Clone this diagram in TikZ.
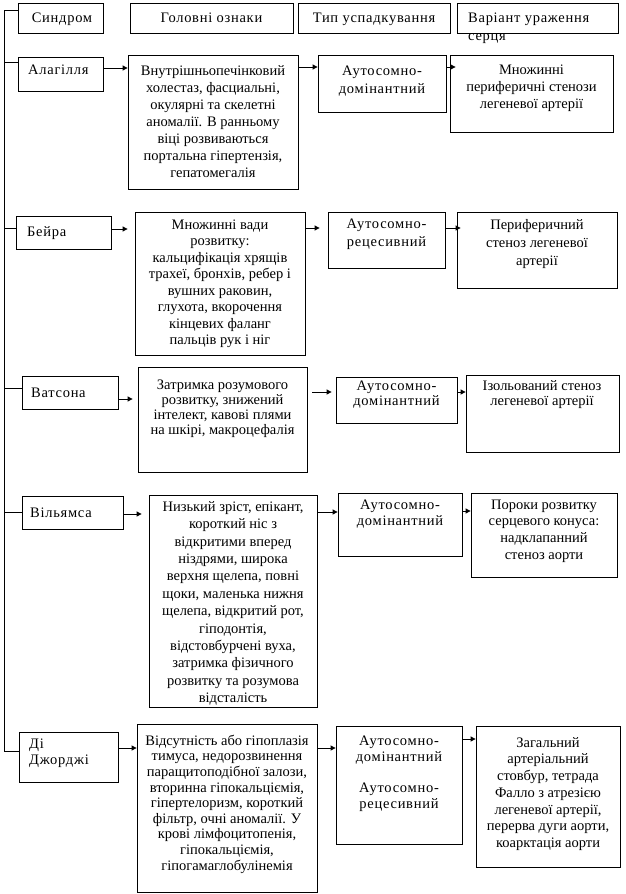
\documentclass[tikz,border=0pt]{standalone}
\usepackage{fontspec}
\setmainfont{Liberation Serif}
\newfontfamily\tnr{Liberation Serif}
\newfontfamily\tnrw{Liberation Serif}[LetterSpace=5]
\usetikzlibrary{arrows.meta,fit}
\newcommand\fs[1]{\fontsize{14.5}{#1}\selectfont}
\newcommand\fl{\rule{0pt}{12pt}}
\tikzset{
  box/.style={draw, line width=0.8pt, inner sep=0pt},
  ct/.style={anchor=north, inner sep=0pt, align=center},
  lt/.style={anchor=north west, inner sep=0pt, align=left},
  arr/.style={line width=0.8pt, -{Triangle[length=5pt,width=5pt]}},
  ln/.style={line width=0.8pt}
}
\newcommand\bx[5]{\node[box, fit={(#2,#3) (#4,#5)}] (#1) {};}
\begin{document}
\begin{tikzpicture}[x=1pt,y=-1pt,font=\tnr\fs{17}]
\useasboundingbox (0,0) rectangle (626,894);
% header
\bx{synd}{18}{3}{103}{33}
\bx{glav}{130}{3}{293}{33}
\bx{typ}{298}{3}{450}{33}
\bx{var}{457}{3}{618}{33}
\node[ct, font=\tnrw\fs{17}] (syndt) at (62,10) {\fl Синдром};
\node[ct, font=\tnrw\fs{17}] (glavt) at (211.5,10) {\fl Головні ознаки};
\node[ct, font=\tnrw\fs{17}] (typt) at (374,10) {\fl Тип успадкування};
\node[lt, font=\tnrw\fs{18}] (vart) at (468,10) {\fl Варіант ураження\\серця};
% row 1
\bx{alag}{18}{57}{103}{91}
\bx{alagT}{128}{55}{298}{189}
\bx{alagA}{318}{55}{446}{112}
\bx{alagH}{450}{55}{613}{132}
\node[lt, font=\tnrw\fs{17}] (alagt) at (28,62) {\fl Алагілля};
\node[ct, font=\tnr\fs{17}] (alagTt) at (213,63) {\fl Внутрішньопечінковий\\холестаз, фасциальні,\\окулярні та скелетні\\аномалії. В ранньому\\віці розвиваються\\портальна гіпертензія,\\гепатомегалія};
\node[ct, font=\tnrw\fs{18}] (alagAt) at (382,63) {\fl Аутосомно-\\домінантний};
\node[ct, font=\tnr\fs{17}] (alagHt) at (531.5,62) {\fl Множинні\\периферичні стенози\\легеневої артерії};
% row 2
\bx{beir}{16}{216}{111}{249}
\bx{beirT}{135}{212}{305}{355}
\bx{beirA}{328}{212}{445}{268}
\bx{beirH}{457}{212}{617}{288}
\node[lt, font=\tnrw\fs{17}] (beirt) at (27,224) {\fl Бейра};
\node[ct, font=\tnr\fs{16.5}] (beirTt) at (220,217) {\fl Множинні вади\\розвитку:\\кальцифікація хрящів\\трахеї, бронхів, ребер і\\вушних раковин,\\глухота, вкорочення\\кінцевих фаланг\\пальців рук і ніг};
\node[ct, font=\tnrw\fs{18}] (beirAt) at (386.5,216) {\fl Аутосомно-\\рецесивний};
\node[ct, font=\tnr\fs{18}] (beirHt) at (537,217) {\fl Периферичний\\стеноз легеневої\\артерії};
% row 3
\bx{wats}{22}{376}{118}{409}
\bx{watsT}{138}{367}{307}{472}
\bx{watsA}{336}{377}{457}{423}
\bx{watsH}{466}{375}{619}{452}
\node[lt, font=\tnrw\fs{17}] (watst) at (31,385) {\fl Ватсона};
\node[ct, font=\tnr\fs{15}] (watsTt) at (222.5,377) {\fl Затримка розумового\\розвитку, знижений\\інтелект, кавові плями\\на шкірі, макроцефалія};
\node[ct, font=\tnrw\fs{15}] (watsAt) at (396.5,378) {\fl Аутосомно-\\домінантний};
\node[ct, font=\tnr\fs{15}] (watsHt) at (542,378) {\fl Ізольований стеноз\\легеневої артерії};
% row 4
\bx{wil}{22}{496}{123}{529}
\bx{wilT}{149}{495}{317}{707}
\bx{wilA}{338}{493}{462}{556}
\bx{wilH}{471}{493}{617}{577}
\node[lt, font=\tnrw\fs{17}] (wilt) at (30,505) {\fl Вільямса};
\node[ct, font=\tnr\fs{17.4}] (wilTt) at (233,499) {\fl Низький зріст, епікант,\\короткий ніс з\\відкритими вперед\\ніздрями, широка\\верхня щелепа, повні\\щоки, маленька нижня\\щелепа, відкритий рот,\\гіподонтія,\\відстовбурчені вуха,\\затримка фізичного\\розвитку та розумова\\відсталість};
\node[ct, font=\tnrw\fs{16}] (wilAt) at (400,497) {\fl Аутосомно-\\домінантний};
\node[ct, font=\tnr\fs{16.7}] (wilHt) at (544,497) {\fl Пороки розвитку\\серцевого конуса:\\надклапанний\\стеноз аорти};
% row 5
\bx{dig}{19}{732}{118}{782}
\bx{digT}{137}{724}{317}{892}
\bx{digA}{336}{726}{462}{844}
\bx{digH}{476}{726}{620}{867}
\node[lt, font=\tnrw\fs{16}] (digt) at (29,736) {\fl Ді\\Джорджі};
\node[ct, font=\tnr\fs{15.6}] (digTt) at (227,733) {\fl Відсутність або гіпоплазія\\тимуса, недорозвинення\\паращитоподібної залози,\\вторинна гіпокальціємія,\\гіпертелоризм, короткий\\фільтр, очні аномалії. У\\крові лімфоцитопенія,\\гіпокальціємія,\\гіпогамаглобулінемія};
\node[ct, font=\tnrw\fs{15.8}] (digAt) at (399,733) {\fl Аутосомно-\\домінантний\\[15.8pt]Аутосомно-\\рецесивний};
\node[ct, font=\tnr\fs{16.7}] (digHt) at (548,735) {\fl Загальний\\артеріальний\\стовбур, тетрада\\Фалло з атрезією\\легеневої артерії,\\перерва дуги аорти,\\коарктація аорти};
% trunk
\coordinate (trT) at (4,10);
\coordinate (trB) at (4,751);
\draw[ln] (synd.west |- trT) -- (trT) -- (trB) -- (dig.west |- trB);
\draw[ln] (trT |- 0,62) -- (alag.west |- 0,62);
\draw[ln] (trT |- 0,228) -- (beir.west |- 0,228);
\draw[ln] (trT |- 0,388) -- (wats.west |- 0,388);
\draw[ln] (trT |- 0,512) -- (wil.west |- 0,512);
% arrows
\draw[arr] (alag.east |- 0,68) -- (alagT.west |- 0,68);
\draw[arr] (alagT.east |- 0,67) -- (alagA.west |- 0,67);
\draw[arr, shorten >=-6pt] (alagA.east |- 0,67) -- (alagH.west |- 0,67);
\draw[arr, shorten >=7pt] (beir.east |- 0,229) -- (beirT.west |- 0,229);
\draw[arr, shorten >=8pt] (beirT.east |- 0,228) -- (beirA.west |- 0,228);
\draw[arr, shorten >=-4pt] (beirA.east |- 0,228) -- (beirH.west |- 0,228);
\draw[arr, shorten >=5pt] (wats.east |- 0,399) -- (watsT.west |- 0,399);
\draw[arr, shorten <=5pt, shorten >=4pt] (watsT.east |- 0,392) -- (watsA.west |- 0,392);
\draw[arr] (watsA.east |- 0,392) -- (watsH.west |- 0,392);
\draw[arr, shorten >=7pt] (wil.east |- 0,514) -- (wilT.west |- 0,514);
\draw[arr] (wilT.east |- 0,512) -- (wilA.west |- 0,512);
\draw[arr] (wilA.east |- 0,511) -- (wilH.west |- 0,511);
\draw[arr] (dig.east |- 0,748) -- (digT.west |- 0,748);
\draw[arr] (digT.east |- 0,748) -- (digA.west |- 0,748);
\draw[arr] (digA.east |- 0,739) -- (digH.west |- 0,739);
\end{tikzpicture}
\end{document}
